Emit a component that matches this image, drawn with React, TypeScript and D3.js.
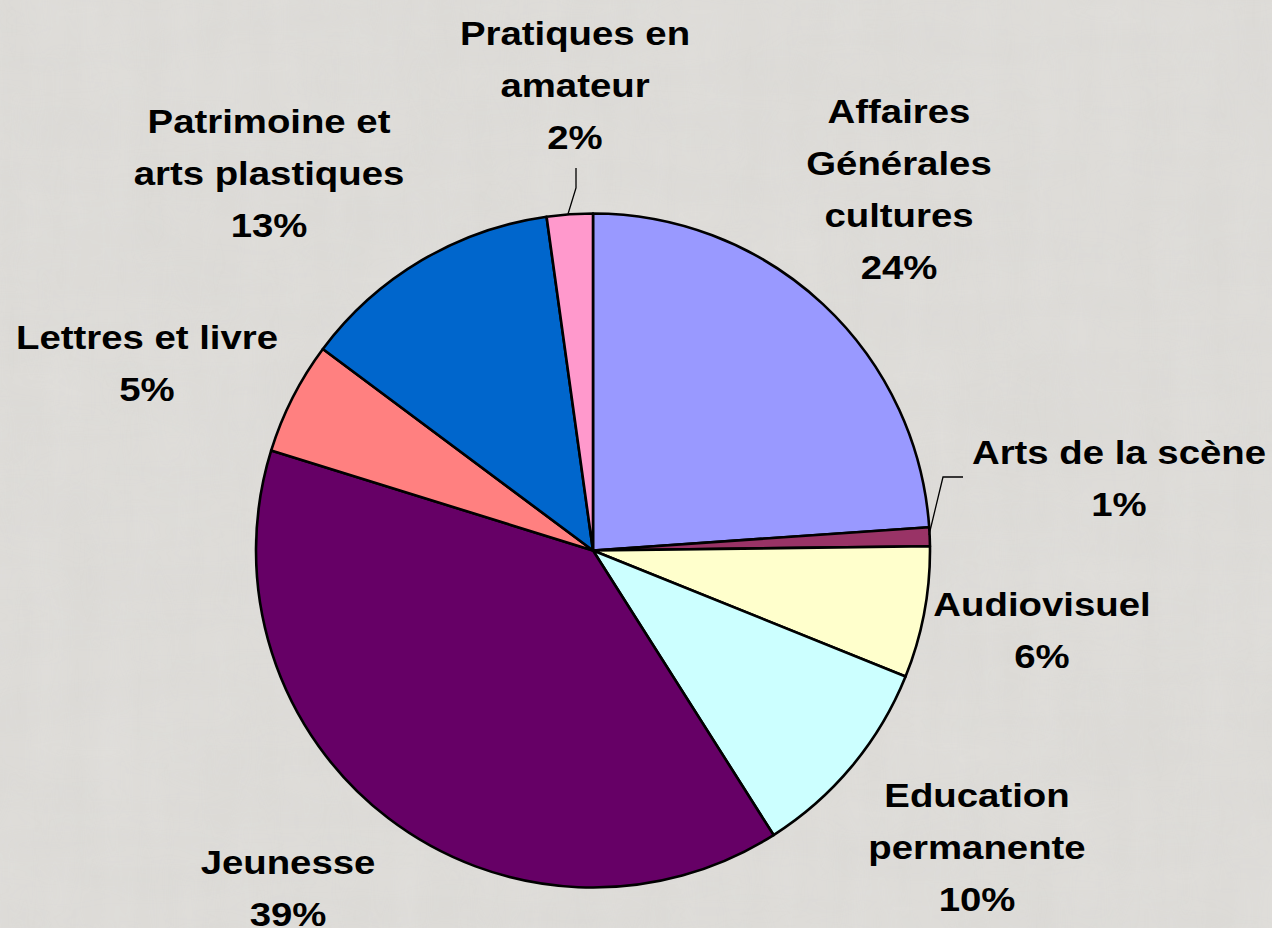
import React from "react";
import * as d3 from "d3";

// ---- data ----
const categories = [
  "Affaires Générales cultures",
  "Arts de la scène",
  "Audiovisuel",
  "Education permanente",
  "Jeunesse",
  "Lettres et livre",
  "Patrimoine et arts plastiques",
  "Pratiques en amateur",
];
const shares = [23.9, 0.9, 6.3, 9.9, 38.8, 5.4, 12.6, 2.2];
const labelLines = [
  ["Affaires", "Générales", "cultures"],
  ["Arts de la scène"],
  ["Audiovisuel"],
  ["Education", "permanente"],
  ["Jeunesse"],
  ["Lettres et livre"],
  ["Patrimoine et", "arts plastiques"],
  ["Pratiques en", "amateur"],
];
const sliceColors = ["#9999FF", "#993366", "#FFFFCC", "#CCFFFF", "#660066", "#FF8080", "#0066CC", "#FF99CC"];

// ---- layout ----
const W = 1272;
const H = 928;
const CX = 593;
const CY = 550.5;
const R = 337;
const LINE = 52;
const FONT = 32.5;
const XSCALE = 1.18;
// label centre x and first baseline y
const labelAnchors: [number, number][] = [
  [899, 123],
  [1119, 464],
  [1042, 616],
  [977, 807],
  [288, 874],
  [147, 349],
  [269, 133],
  [575, 45],
];
// leader lines (only for the small slices)
const leaders: { [k: number]: [number, number][] } = {
  1: [[963, 477], [943, 477], [929, 535]],
  7: [[576, 168], [576, 188], [568, 214]],
};

export default function App() {
  const pie = d3.pie<number>().sort(null).value((d) => d).startAngle(0).endAngle(2 * Math.PI);
  const arcs = pie(shares);
  const arcGen = d3.arc<d3.PieArcDatum<number>>().innerRadius(0).outerRadius(R);
  const total = d3.sum(shares);
  const line = d3.line();

  return (
    <svg
      width={W}
      height={H}
      viewBox={`0 0 ${W} ${H}`}
      style={{ position: "fixed", left: 0, top: 0, display: "block" }}
    >
      <defs>
        <filter id="tex" x="0" y="0" width="100%" height="100%">
          <feTurbulence type="fractalNoise" baseFrequency="0.006 0.03" numOctaves="3" seed="4" result="n" />
          <feColorMatrix
            type="matrix"
            values="0 0 0 0 0.5  0 0 0 0 0.5  0 0 0 0 0.5  0 0 0 0.25 0"
          />
        </filter>
        <filter id="tex2" x="0" y="0" width="100%" height="100%">
          <feTurbulence type="fractalNoise" baseFrequency="0.03 0.006" numOctaves="3" seed="9" result="n" />
          <feColorMatrix
            type="matrix"
            values="0 0 0 0 1  0 0 0 0 1  0 0 0 0 1  0 0 0 0.3 0"
          />
        </filter>
      </defs>
      <rect x={0} y={0} width={W} height={H} fill="#dddbd7" />
      <rect x={0} y={0} width={W} height={H} filter="url(#tex)" opacity={0.35} />
      <rect x={0} y={0} width={W} height={H} filter="url(#tex2)" opacity={0.35} />

      <g transform={`translate(${CX},${CY})`}>
        {arcs.map((a, i) => (
          <path
            key={categories[i]}
            d={arcGen(a) || ""}
            fill={sliceColors[i]}
            stroke="#000"
            strokeWidth={2.6}
            strokeLinejoin="round"
          />
        ))}
      </g>

      {Object.entries(leaders).map(([k, pts]) => (
        <path key={k} d={line(pts) || ""} fill="none" stroke="#000" strokeWidth={1.3} />
      ))}

      {labelLines.map((lines, i) => {
        const [lx, ly] = labelAnchors[i];
        const pct = `${Math.round((shares[i] / total) * 100)}%`;
        const all = [...lines, pct];
        return (
          <g key={categories[i]}>
            {all.map((t, j) => (
              <text
                key={j}
                transform={`translate(${lx},${ly + j * LINE}) scale(${XSCALE},1)`}
                textAnchor="middle"
                fontFamily="'Liberation Sans', Arial, sans-serif"
                fontWeight="bold"
                fontSize={FONT}
                fill="#000"
              >
                {t}
              </text>
            ))}
          </g>
        );
      })}
    </svg>
  );
}
